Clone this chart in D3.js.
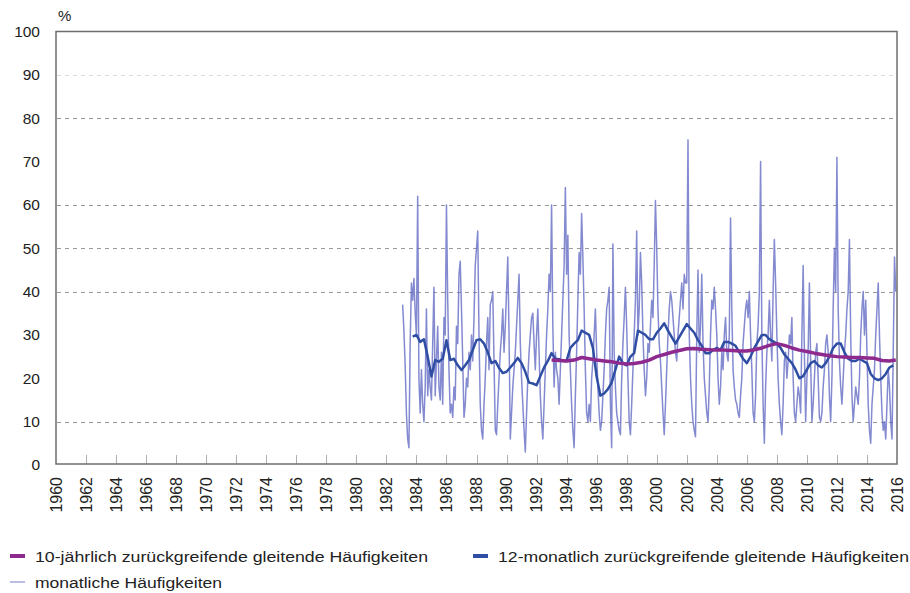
<!DOCTYPE html>
<html>
<head>
<meta charset="utf-8">
<script src="https://cdn.jsdelivr.net/npm/d3@7"></script>
<style>
  body { margin: 0; background: #fff; }
  text { font-family: "Liberation Sans", Arial, sans-serif; fill: #222; }
</style>
</head>
<body>
<div id="chart"></div>
<script>
// x axis tick labels (every 2 years)
var yearTicks = d3.range(1960, 2017, 2);
var yTicks = [0, 10, 20, 30, 40, 50, 60, 70, 80, 90, 100];
var gridLines = [10, 40, 50, 60, 80];
var gridFaint = [90];

// monthly frequencies, Feb 1983 .. Dec 2015 (one row per year)
var monthlyStart = 1983 + 1 / 12;
var monthly = [
  37, 31, 23, 12, 6, 4, 28, 42, 38, 43, 35,              // 1983 (from Feb)
  30, 62, 20, 12, 22, 14, 10, 18, 36, 16, 22, 18,         // 1984
  15, 28, 41, 16, 24, 32, 18, 15, 26, 14, 34, 30,         // 1985
  60, 38, 22, 12, 14, 11, 18, 15, 32, 28, 44, 47,         // 1986
  36, 24, 11, 14, 20, 18, 26, 22, 30, 24, 34, 46,         // 1987
  50, 54, 30, 14, 8, 6, 14, 20, 28, 34, 22, 37,           // 1988
  38, 40, 24, 8, 7, 14, 20, 26, 30, 36, 26, 32,           // 1989
  40, 48, 30, 6, 12, 18, 22, 26, 32, 38, 44, 28,          // 1990
  20, 14, 8, 3, 12, 20, 26, 30, 34, 35, 28, 22,           // 1991
  30, 36, 26, 16, 10, 6, 14, 22, 30, 36, 44, 40,          // 1992
  60, 32, 18, 26, 22, 20, 14, 22, 30, 38, 46, 64,         // 1993
  44, 53, 30, 22, 14, 8, 4, 16, 26, 38, 49, 44,           // 1994
  58, 48, 36, 22, 12, 10, 14, 10, 20, 24, 30, 36,         // 1995
  26, 18, 12, 8, 10, 16, 22, 30, 36, 38, 41, 14,          // 1996
  4, 51, 26, 18, 12, 10, 8, 7, 20, 28, 34, 41,            // 1997
  32, 20, 10, 7, 14, 22, 30, 38, 54, 30, 36, 49,          // 1998
  42, 30, 22, 16, 20, 28, 26, 32, 38, 34, 46, 61,         // 1999
  50, 36, 28, 24, 18, 12, 7, 14, 22, 30, 36, 40,          // 2000
  38, 34, 30, 26, 24, 30, 34, 38, 42, 36, 44, 42,         // 2001
  42, 75, 30, 20, 14, 10, 8, 6.5, 30, 45, 26, 32,         // 2002
  44, 28, 20, 16, 12, 10, 18, 30, 38, 36, 41, 36,         // 2003
  30, 20, 14, 18, 26, 22, 30, 34, 26, 24, 30, 57,         // 2004
  36, 22, 18, 15, 14, 12, 11, 16, 20, 28, 32, 36,         // 2005
  38, 34, 40, 30, 22, 12, 10, 16, 28, 32, 40, 70,         // 2006
  30, 14, 5, 18, 26, 30, 38, 30, 24, 40, 52, 42,          // 2007
  30, 20, 14, 10, 7, 14, 24, 26, 20, 24, 30, 28,          // 2008
  34, 20, 12, 10, 14, 18, 16, 12, 30, 46, 26, 10,         // 2009
  20, 26, 42, 24, 10, 14, 20, 26, 28, 20, 11, 10,         // 2010
  12, 18, 22, 28, 30, 26, 16, 10, 20, 36, 50, 40,         // 2011
  71, 36, 24, 18, 14, 20, 26, 30, 36, 40, 52, 30,         // 2012
  16, 10, 14, 18, 16, 14, 20, 30, 36, 40, 30, 38,         // 2013
  26, 14, 8, 5, 14, 18, 22, 30, 36, 42, 30, 20,           // 2014
  12, 8, 10, 6, 14, 22, 18, 10, 6, 26, 48, 40             // 2015
];

// 12-month moving frequencies, read quarterly from 1983.75
var ma12Start = 1983.75;
var ma12 = [
  29.6,
  30, 28.4, 29, 25,        20.4, 24.2, 23.8, 24.5,   28.8, 24.2, 24.5, 23,
  21.9, 23, 24.2, 26.5,    28.8, 29, 28, 26,         23.5, 24, 22.4, 21.2,
  21.5, 22.5, 23.5, 24.7,  23.5, 21.5, 19, 18.8,     18.4, 20.5, 22.5, 24,
  25.8, 24.5, 24.4, 24,    24, 27, 28, 28.8,         31, 30.5, 30, 27,
  20.4, 16, 16.5, 17.5,    19, 22, 25, 23.5,         23, 25, 25.8, 31,
  30.5, 30, 29, 29,        30.5, 31.5, 32.7, 31,     29.5, 28, 29.5, 31,
  32.5, 31.5, 30.5, 28.8,  27.5, 25.8, 25.8, 26.5,   27, 26.5, 28.4, 28.4,
  28, 27.5, 26, 24.5,      23.5, 25, 27, 28.5,       30, 30, 29, 28.5,
  28, 27, 25.5, 24.5,      23.5, 22, 20, 20.5,       22, 23.5, 24, 23,
  22.5, 23.5, 25, 27,      28, 28, 26, 24.5,         24, 24, 24.5, 24,
  23.5, 21, 20, 19.6,      20, 21, 22.5, 23
];

// 10-year moving frequencies, read half-yearly from 1993
var ma10Start = 1993;
var ma10 = [
  24.2, 24.1, 24.0, 24.2, 24.8, 24.5, 24.2, 24.0, 23.8, 23.5,
  23.3, 23.4, 23.7, 24.2, 25.0, 25.5, 26.0, 26.4, 26.8, 26.9,
  26.7, 26.6, 26.5, 26.5, 26.4, 26.3, 26.3, 26.6, 27.0, 27.6,
  28.0, 27.6, 27.0, 26.5, 26.2, 25.8, 25.5, 25.2, 25.0, 24.9,
  24.8, 24.8, 24.7, 24.6, 24.1, 24.0, 24.2
];

var legendLabels = [
  "10-jährlich zurückgreifende gleitende Häufigkeiten",
  "12-monatlich zurückgreifende gleitende Häufigkeiten",
  "monatliche Häufigkeiten"
];

var W = 910, H = 593;
var svg = d3.select("#chart").append("svg").attr("width", W).attr("height", H);

var x = d3.scaleLinear().domain([1960, 2016]).range([56, 897]);
var y = d3.scaleLinear().domain([0, 100]).range([465, 31.5]);

// gridlines
svg.selectAll(".grid").data(gridLines).enter().append("line")
  .attr("x1", 57).attr("x2", 896)
  .attr("y1", function (d) { return Math.round(y(d)) + 0.5; })
  .attr("y2", function (d) { return Math.round(y(d)) + 0.5; })
  .attr("stroke", "#9a9a9a").attr("stroke-width", 1).attr("stroke-dasharray", "4,4");
svg.selectAll(".gridf").data(gridFaint).enter().append("line")
  .attr("x1", 57).attr("x2", 896)
  .attr("y1", function (d) { return Math.round(y(d)) + 0.5; })
  .attr("y2", function (d) { return Math.round(y(d)) + 0.5; })
  .attr("stroke", "#dcdcdc").attr("stroke-width", 1).attr("stroke-dasharray", "4,4");

// x ticks
svg.selectAll(".xt").data(yearTicks.slice(1, -1)).enter().append("line")
  .attr("x1", function (d) { return Math.round(x(d)) + 0.5; })
  .attr("x2", function (d) { return Math.round(x(d)) + 0.5; })
  .attr("y1", 464).attr("y2", 455)
  .attr("stroke", "#b0b0b0").attr("stroke-width", 1);

// series
var monthlyPts = monthly.map(function (v, i) { return [monthlyStart + i / 12, v]; });
var ma12Pts = ma12.map(function (v, i) { return [ma12Start + i * 0.25, v]; });
var ma10Pts = ma10.map(function (v, i) { return [Math.min(ma10Start + i * 0.5, 2015.92), v]; });

var line = d3.line()
  .x(function (d) { return x(d[0]); })
  .y(function (d) { return y(d[1]); });

svg.append("path").datum(monthlyPts).attr("d", line)
  .attr("fill", "none").attr("stroke", "#5b63c0").attr("stroke-opacity", 0.75)
  .attr("stroke-width", 1.5).attr("stroke-linejoin", "round");
svg.append("path").datum(ma12Pts).attr("d", line)
  .attr("fill", "none").attr("stroke", "#2f4ea3").attr("stroke-width", 2.5)
  .attr("stroke-linejoin", "round");
svg.append("path").datum(ma10Pts).attr("d", line)
  .attr("fill", "none").attr("stroke", "#8e2a8e").attr("stroke-width", 3.5)
  .attr("stroke-linejoin", "round");

// frame
svg.append("rect")
  .attr("x", 56).attr("y", 31.5).attr("width", 841).attr("height", 432.5)
  .attr("fill", "none").attr("stroke", "#6e6e6e").attr("stroke-width", 1.5);

// y labels
svg.selectAll(".yl").data(yTicks).enter().append("text")
  .attr("x", 40).attr("y", function (d) { return y(d); })
  .attr("dy", "0.35em").attr("text-anchor", "end")
  .attr("font-size", 15.5)
  .text(function (d) { return d; });
svg.append("text").attr("x", 58).attr("y", 21).attr("font-size", 15).text("%");

// x labels
svg.selectAll(".xl").data(yearTicks).enter().append("text")
  .attr("transform", function (d) { return "translate(" + x(d) + ",477) rotate(-90)"; })
  .attr("dy", "0.36em").attr("text-anchor", "end")
  .attr("font-size", 16)
  .text(function (d) { return d; });

// legend
var legend = [
  { label: legendLabels[0], color: "#8e2a8e", w: 4, opacity: 1, x: 10, y: 556, len: 393 },
  { label: legendLabels[1], color: "#2f4ea3", w: 4, opacity: 1, x: 473, y: 556, len: 411 },
  { label: legendLabels[2], color: "#5b63c0", w: 1.5, opacity: 0.55, x: 10, y: 582, len: 187 }
];
var lg = svg.selectAll(".lg").data(legend).enter().append("g");
lg.append("line")
  .attr("x1", function (d) { return d.x; }).attr("x2", function (d) { return d.x + 15; })
  .attr("y1", function (d) { return d.y; }).attr("y2", function (d) { return d.y; })
  .attr("stroke", function (d) { return d.color; })
  .attr("stroke-opacity", function (d) { return d.opacity; })
  .attr("stroke-width", function (d) { return d.w; });
lg.append("text")
  .attr("x", function (d) { return d.x + 25; })
  .attr("y", function (d) { return d.y; })
  .attr("dy", "0.36em").attr("font-size", 15.5)
  .attr("textLength", function (d) { return d.len; })
  .attr("lengthAdjust", "spacingAndGlyphs")
  .text(function (d) { return d.label; });
</script>
</body>
</html>
